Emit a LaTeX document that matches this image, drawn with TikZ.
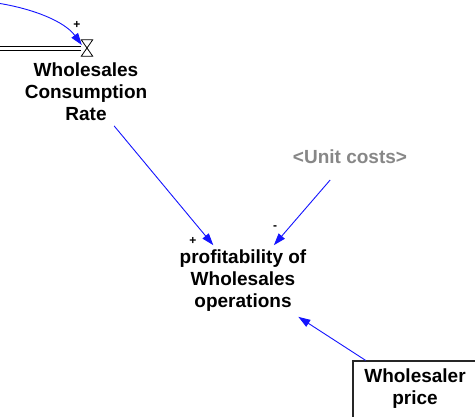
\documentclass[tikz,border=0pt]{standalone}
\usepackage{fontspec}
\setmainfont{Liberation Sans}
\usetikzlibrary{arrows.meta,calc}
\definecolor{linkblue}{RGB}{20,20,255}
\definecolor{shadowgray}{RGB}{135,135,135}
\tikzset{
  vartext/.style={align=center,inner sep=0pt,outer sep=5pt,font=\bfseries\fontsize{19}{22}\selectfont},
  signtext/.style={inner sep=0pt,font=\bfseries\fontsize{12}{12}\selectfont},
  link/.style={draw=linkblue,line width=0.9pt,-{Triangle[length=12pt,width=8pt]}},
  pipe/.style={draw=black,double=white,double distance=2.6pt,line width=0.8pt},
}
\begin{document}
\begin{tikzpicture}[x=1pt,y=-1pt]
\useasboundingbox (0,0) rectangle (475,416);
\fill[white] (0,0) rectangle (475,416);
% valve and pipe
\node[minimum width=11pt,minimum height=16pt,inner sep=0pt] (valve) at (87,48) {};
\coordinate (pipein) at (-3,48.5);
\draw[pipe] (pipein) -- ($(valve.west)+(0,0.5)$);
\draw[line width=0.8pt] (valve.north west) -- (valve.north east) -- (valve.south west) -- (valve.south east) -- cycle;
% texts
\node[vartext] (rate) at (86,92) {Wholesales\\Consumption\\Rate};
\node[vartext,text=shadowgray,outer sep=16pt] (unit) at (350,157) {<Unit costs>};
\node[vartext] (prof) at (243,281) {profitability of\\Wholesales\\operations};
\node[draw=black!85,line width=1.3pt,minimum width=126pt,minimum height=64pt,inner sep=0pt] (pricebox) at (416,393) {};
\node[vartext] (price) at (415,389) {Wholesaler\\price};
% signs
\node[signtext] (s1) at (77,25) {+};
\node[signtext] (s2) at (193,240.5) {+};
\node[signtext] (s3) at (275,228) {-};
% links
\coordinate (src) at (-3,3);
\draw[link] (src) .. controls (35,9) and (65,22) .. ($(valve.west)+(0.5,-3)$);
\draw[link] (rate) -- (prof);
\draw[link] (unit) -- (prof);
\draw[link] (pricebox) -- (prof);
\end{tikzpicture}
\end{document}
